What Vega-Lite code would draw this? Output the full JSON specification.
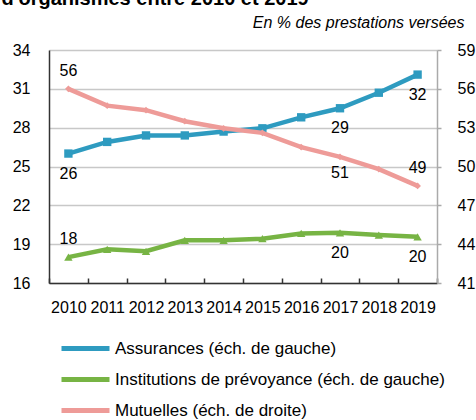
{
  "$schema": "https://vega.github.io/schema/vega-lite/v6.json",
  "width": 388,
  "height": 233,
  "autosize": {"type": "none"},
  "padding": {"left": 49, "top": 50, "right": 39, "bottom": 137},
  "config": {
    "font": "Liberation Sans",
    "view": {"stroke": null},
    "axis": {"labelColor": "black", "labelFontSize": 16, "titleColor": "black"},
    "legend": {
      "orient": "none",
      "legendX": 10,
      "legendY": 288,
      "padding": 0,
      "labelFontSize": 17,
      "labelColor": "black",
      "labelLimit": 0
    }
  },
  "data": {
    "values": [
      {"year": 2010, "series": "Assurances (éch. de gauche)", "v": 26.0, "lab": "26"},
      {"year": 2011, "series": "Assurances (éch. de gauche)", "v": 26.9, "lab": null},
      {"year": 2012, "series": "Assurances (éch. de gauche)", "v": 27.4, "lab": null},
      {"year": 2013, "series": "Assurances (éch. de gauche)", "v": 27.4, "lab": null},
      {"year": 2014, "series": "Assurances (éch. de gauche)", "v": 27.7, "lab": null},
      {"year": 2015, "series": "Assurances (éch. de gauche)", "v": 27.95, "lab": null},
      {"year": 2016, "series": "Assurances (éch. de gauche)", "v": 28.8, "lab": null},
      {"year": 2017, "series": "Assurances (éch. de gauche)", "v": 29.5, "lab": "29"},
      {"year": 2018, "series": "Assurances (éch. de gauche)", "v": 30.7, "lab": null},
      {"year": 2019, "series": "Assurances (éch. de gauche)", "v": 32.1, "lab": "32"},
      {"year": 2010, "series": "Institutions de prévoyance (éch. de gauche)", "v": 18.0, "lab": "18"},
      {"year": 2011, "series": "Institutions de prévoyance (éch. de gauche)", "v": 18.6, "lab": null},
      {"year": 2012, "series": "Institutions de prévoyance (éch. de gauche)", "v": 18.45, "lab": null},
      {"year": 2013, "series": "Institutions de prévoyance (éch. de gauche)", "v": 19.3, "lab": null},
      {"year": 2014, "series": "Institutions de prévoyance (éch. de gauche)", "v": 19.3, "lab": null},
      {"year": 2015, "series": "Institutions de prévoyance (éch. de gauche)", "v": 19.42, "lab": null},
      {"year": 2016, "series": "Institutions de prévoyance (éch. de gauche)", "v": 19.83, "lab": null},
      {"year": 2017, "series": "Institutions de prévoyance (éch. de gauche)", "v": 19.88, "lab": "20"},
      {"year": 2018, "series": "Institutions de prévoyance (éch. de gauche)", "v": 19.7, "lab": null},
      {"year": 2019, "series": "Institutions de prévoyance (éch. de gauche)", "v": 19.57, "lab": "20"},
      {"year": 2010, "series": "Mutuelles (éch. de droite)", "v": 56.0, "lab": "56"},
      {"year": 2011, "series": "Mutuelles (éch. de droite)", "v": 54.7, "lab": null},
      {"year": 2012, "series": "Mutuelles (éch. de droite)", "v": 54.35, "lab": null},
      {"year": 2013, "series": "Mutuelles (éch. de droite)", "v": 53.5, "lab": null},
      {"year": 2014, "series": "Mutuelles (éch. de droite)", "v": 52.95, "lab": null},
      {"year": 2015, "series": "Mutuelles (éch. de droite)", "v": 52.6, "lab": null},
      {"year": 2016, "series": "Mutuelles (éch. de droite)", "v": 51.5, "lab": null},
      {"year": 2017, "series": "Mutuelles (éch. de droite)", "v": 50.75, "lab": "51"},
      {"year": 2018, "series": "Mutuelles (éch. de droite)", "v": 49.8, "lab": null},
      {"year": 2019, "series": "Mutuelles (éch. de droite)", "v": 48.5, "lab": "49"}
    ]
  },
  "encoding": {
    "x": {
      "field": "year",
      "type": "ordinal",
      "scale": {"paddingInner": 0, "paddingOuter": 0},
      "axis": {
        "title": null,
        "labelAngle": 0,
        "labelPadding": 21,
        "domainColor": "#333333",
        "domainWidth": 1.5,
        "tickBand": "extent",
        "tickSize": -5,
        "tickColor": "#333333",
        "tickWidth": 1.5
      }
    },
    "color": {
      "field": "series",
      "type": "nominal",
      "title": null,
      "scale": {
        "domain": ["Assurances (éch. de gauche)", "Institutions de prévoyance (éch. de gauche)", "Mutuelles (éch. de droite)"],
        "range": ["#2e9bc0", "#77b444", "#ee9b98"]
      },
      "legend": {
        "symbolType": "M-1,0H5",
        "symbolSize": 256,
        "symbolStrokeWidth": 5,
        "labelOffset": 35,
        "rowPadding": 10
      }
    }
  },
  "layer": [
    {
      "transform": [{"filter": "datum.series != 'Mutuelles (éch. de droite)'"}],
      "encoding": {
        "y": {
          "field": "v",
          "type": "quantitative",
          "scale": {"domain": [16, 34], "nice": false, "zero": false},
          "axis": {
            "orient": "left",
            "values": [16, 19, 22, 25, 28, 31, 34],
            "grid": true,
            "gridColor": "#c8c8c8",
            "gridWidth": 1.5,
            "ticks": false,
            "labelPadding": 19,
            "domainColor": "#333333",
            "domainWidth": 1.5,
            "title": "d'organismes entre 2010 et 2019",
            "titleAngle": 0,
            "titleAlign": "left",
            "titleBaseline": "alphabetic",
            "titleX": -48,
            "titleY": -46,
            "titleFontSize": 20,
            "titleFontWeight": "bold"
          }
        }
      },
      "layer": [
        {
          "mark": {"type": "line", "strokeWidth": 4.5}
        },
        {
          "transform": [{"filter": "datum.series == 'Assurances (éch. de gauche)'"}],
          "mark": {"type": "point", "shape": "square", "size": 70, "filled": true, "opacity": 1}
        },
        {
          "transform": [{"filter": "datum.series == 'Institutions de prévoyance (éch. de gauche)'"}],
          "mark": {"type": "point", "shape": "triangle-up", "size": 70, "filled": true, "opacity": 1}
        },
        {
          "transform": [{"filter": "datum.lab != null && datum.year == 2010 && datum.series != 'Assurances (éch. de gauche)'"}],
          "mark": {"type": "text", "fontSize": 16, "color": "black", "dy": -18},
          "encoding": {"text": {"field": "lab"}, "color": {"value": "black"}}
        },
        {
          "transform": [{"filter": "datum.lab != null && !(datum.year == 2010 && datum.series != 'Assurances (éch. de gauche)')"}],
          "mark": {"type": "text", "fontSize": 16, "color": "black", "dy": 20},
          "encoding": {"text": {"field": "lab"}, "color": {"value": "black"}}
        }
      ]
    },
    {
      "transform": [{"filter": "datum.series == 'Mutuelles (éch. de droite)'"}],
      "encoding": {
        "y": {
          "field": "v",
          "type": "quantitative",
          "scale": {"domain": [41, 59], "nice": false, "zero": false},
          "axis": {
            "orient": "right",
            "values": [41, 44, 47, 50, 53, 56, 59],
            "grid": false,
            "ticks": true,
            "tickSize": 4,
            "tickColor": "#aaaaaa",
            "tickWidth": 1.5,
            "domainColor": "#aaaaaa",
            "domainWidth": 1.5,
            "labelPadding": 16,
            "title": "En % des prestations versées",
            "titleAngle": 0,
            "titleAlign": "right",
            "titleBaseline": "alphabetic",
            "titleX": 27,
            "titleY": -23,
            "titleFontSize": 16,
            "titleFontStyle": "italic",
            "titleFontWeight": "normal"
          }
        }
      },
      "layer": [
        {
          "mark": {"type": "line", "strokeWidth": 4.5}
        },
        {
          "mark": {"type": "point", "shape": "diamond", "size": 45, "filled": true, "opacity": 1}
        },
        {
          "transform": [{"filter": "datum.lab != null && (datum.year == 2010 || datum.year == 2019)"}],
          "mark": {"type": "text", "fontSize": 16, "color": "black", "dy": -18},
          "encoding": {"text": {"field": "lab"}, "color": {"value": "black"}}
        },
        {
          "transform": [{"filter": "datum.lab != null && datum.year == 2017"}],
          "mark": {"type": "text", "fontSize": 16, "color": "black", "dy": 16},
          "encoding": {"text": {"field": "lab"}, "color": {"value": "black"}}
        }
      ]
    }
  ],
  "resolve": {"scale": {"y": "independent"}}
}
